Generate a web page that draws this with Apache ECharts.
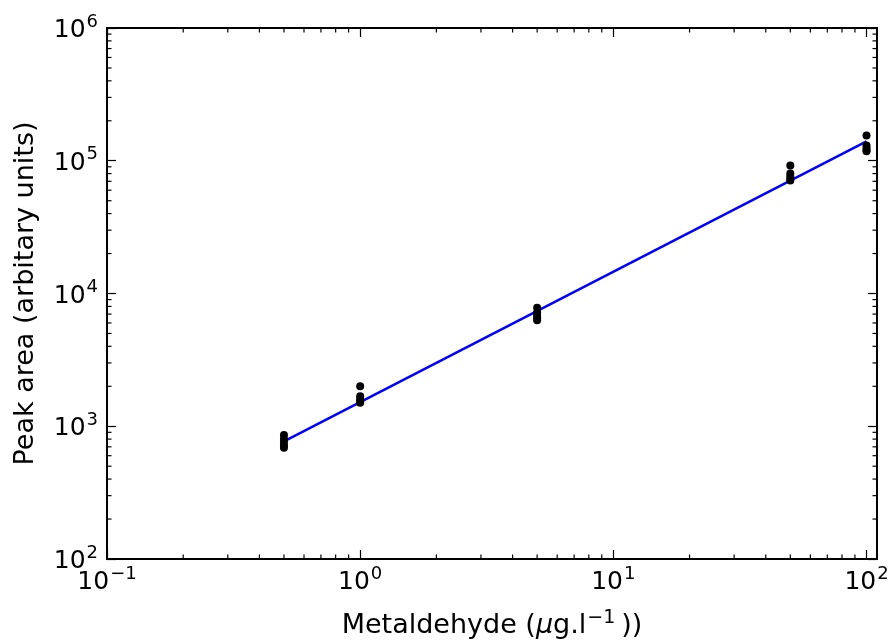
<!DOCTYPE html>
<html><head><meta charset="utf-8">
<script src="https://cdn.jsdelivr.net/npm/echarts@6/dist/echarts.min.js"></script>
<style>html,body{margin:0;padding:0;background:#fff}#c{width:891px;height:644px}</style>
</head><body><div id="c"></div>
<script>
const concentrations = [0.5, 1, 5, 50, 100];
const peakAreas = [
  [860, 800, 760, 720, 690],
  [2000, 1680, 1600, 1530, 1500],
  [7800, 7200, 6800, 6500, 6300],
  [92000, 80000, 76000, 73000, 71000],
  [155000, 130000, 125000, 120000, 118000]
];
const fitX = [0.5, 100];
const fitY = [770, 140000];
const xRange = [0.1, 110];
const yRange = [100, 1e6];
const xTicks = [0.1, 1, 10, 100];
const yTicks = [1e2, 1e3, 1e4, 1e5, 1e6];
const minorMult = [2, 3, 4, 5, 6, 7, 8, 9];
const xDecades = [0.1, 1, 10];
const yDecades = [100, 1000, 1e4, 1e5];

const FONT = 'DejaVu Sans';
const scatterData = [];
concentrations.forEach((c, i) => peakAreas[i].forEach(v => scatterData.push([c, v])));
const fitData = fitX.map((x, i) => [x, fitY[i]]);
const xMinor = [], yMinor = [];
xDecades.forEach(d => minorMult.forEach(m => xMinor.push([d * m, 1000])));
yDecades.forEach(d => minorMult.forEach(m => yMinor.push([1, d * m])));

function powLabel(v) {
  const e = Math.round(Math.log10(v));
  return '{b|10}{s|' + (e < 0 ? '\u2212' + (-e) : e) + '}';
}
const labelRich = {
  b: {fontSize: 25, fontFamily: FONT, color: '#000', lineHeight: 30, verticalAlign: 'bottom'},
  s: {fontSize: 18, fontFamily: FONT, color: '#000', lineHeight: 18, verticalAlign: 'top', padding: [0, 0, 0, 1]}
};
const axLine = {show: true, onZero: false, lineStyle: {color: '#000', width: 2}};
function majTick(vals) {
  return {show: true, inside: true, length: 9, customValues: vals, lineStyle: {color: '#000', width: 1.2}};
}

function minorRenderer(dir) {
  return function (params, api) {
    const cs = params.coordSys;
    const p = api.coord([api.value(0), api.value(1)]);
    const L = 4.5;
    const style = {stroke: '#000', lineWidth: 1.2};
    if (dir === 'x') {
      return {type: 'group', children: [
        {type: 'line', shape: {x1: p[0], y1: cs.y + cs.height, x2: p[0], y2: cs.y + cs.height - L}, style},
        {type: 'line', shape: {x1: p[0], y1: cs.y, x2: p[0], y2: cs.y + L}, style}
      ]};
    }
    return {type: 'group', children: [
      {type: 'line', shape: {x1: cs.x, y1: p[1], x2: cs.x + L, y2: p[1]}, style},
      {type: 'line', shape: {x1: cs.x + cs.width, y1: p[1], x2: cs.x + cs.width - L, y2: p[1]}, style}
    ]};
  };
}

const chart = echarts.init(document.getElementById('c'));
chart.setOption({
  animation: false,
  backgroundColor: '#fff',
  grid: {left: 107, right: 14, top: 28, bottom: 85, containLabel: false, outerBoundsMode: 'none'},
  xAxis: [{
    type: 'log', logBase: 10, min: xRange[0], max: xRange[1], position: 'bottom',
    axisLine: axLine, axisTick: majTick(xTicks), splitLine: {show: false},
    axisLabel: {margin: 6, formatter: powLabel, rich: labelRich, hideOverlap: false, customValues: xTicks},
    name: '{b|Metaldehyde (}{i|\u03bc}{b|g.l}{s|\u22121}{b|))}', nameLocation: 'middle', nameGap: 50,
    nameTextStyle: {fontSize: 27, fontFamily: FONT, color: '#000',
      rich: {
        b: {fontSize: 27, fontFamily: FONT, color: '#000', lineHeight: 30, verticalAlign: 'bottom'},
        i: {fontSize: 27, fontFamily: FONT, fontStyle: 'italic', color: '#000', lineHeight: 30, verticalAlign: 'bottom'},
        s: {fontSize: 19, fontFamily: FONT, color: '#000', lineHeight: 18, verticalAlign: 'top', padding: [0, 6, 0, 1]}
      }}
  }, {
    type: 'log', logBase: 10, min: xRange[0], max: xRange[1], position: 'top',
    axisLine: axLine, axisTick: majTick(xTicks), splitLine: {show: false}, axisLabel: {show: false}
  }],
  yAxis: [{
    type: 'log', logBase: 10, min: yRange[0], max: yRange[1], position: 'left',
    axisLine: axLine, axisTick: majTick(yTicks), splitLine: {show: false},
    axisLabel: {margin: 9, formatter: powLabel, rich: labelRich, hideOverlap: false, customValues: yTicks},
    name: 'Peak area (arbitary units)', nameLocation: 'middle', nameGap: 68, nameRotate: 90,
    nameTextStyle: {fontSize: 27, fontFamily: FONT, color: '#000'}
  }, {
    type: 'log', logBase: 10, min: yRange[0], max: yRange[1], position: 'right',
    axisLine: axLine, axisTick: majTick(yTicks), splitLine: {show: false}, axisLabel: {show: false}
  }],
  series: [
    {type: 'line', data: fitData, showSymbol: false, symbol: 'none',
      lineStyle: {color: '#0000ff', width: 2.5}, z: 3},
    {type: 'scatter', data: scatterData, symbolSize: 8,
      itemStyle: {color: '#000', opacity: 1}, z: 4},
    {type: 'custom', data: xMinor, renderItem: minorRenderer('x'), silent: true, clip: false, z: 5},
    {type: 'custom', data: yMinor, renderItem: minorRenderer('y'), silent: true, clip: false, z: 5}
  ]
});
</script></body></html>
